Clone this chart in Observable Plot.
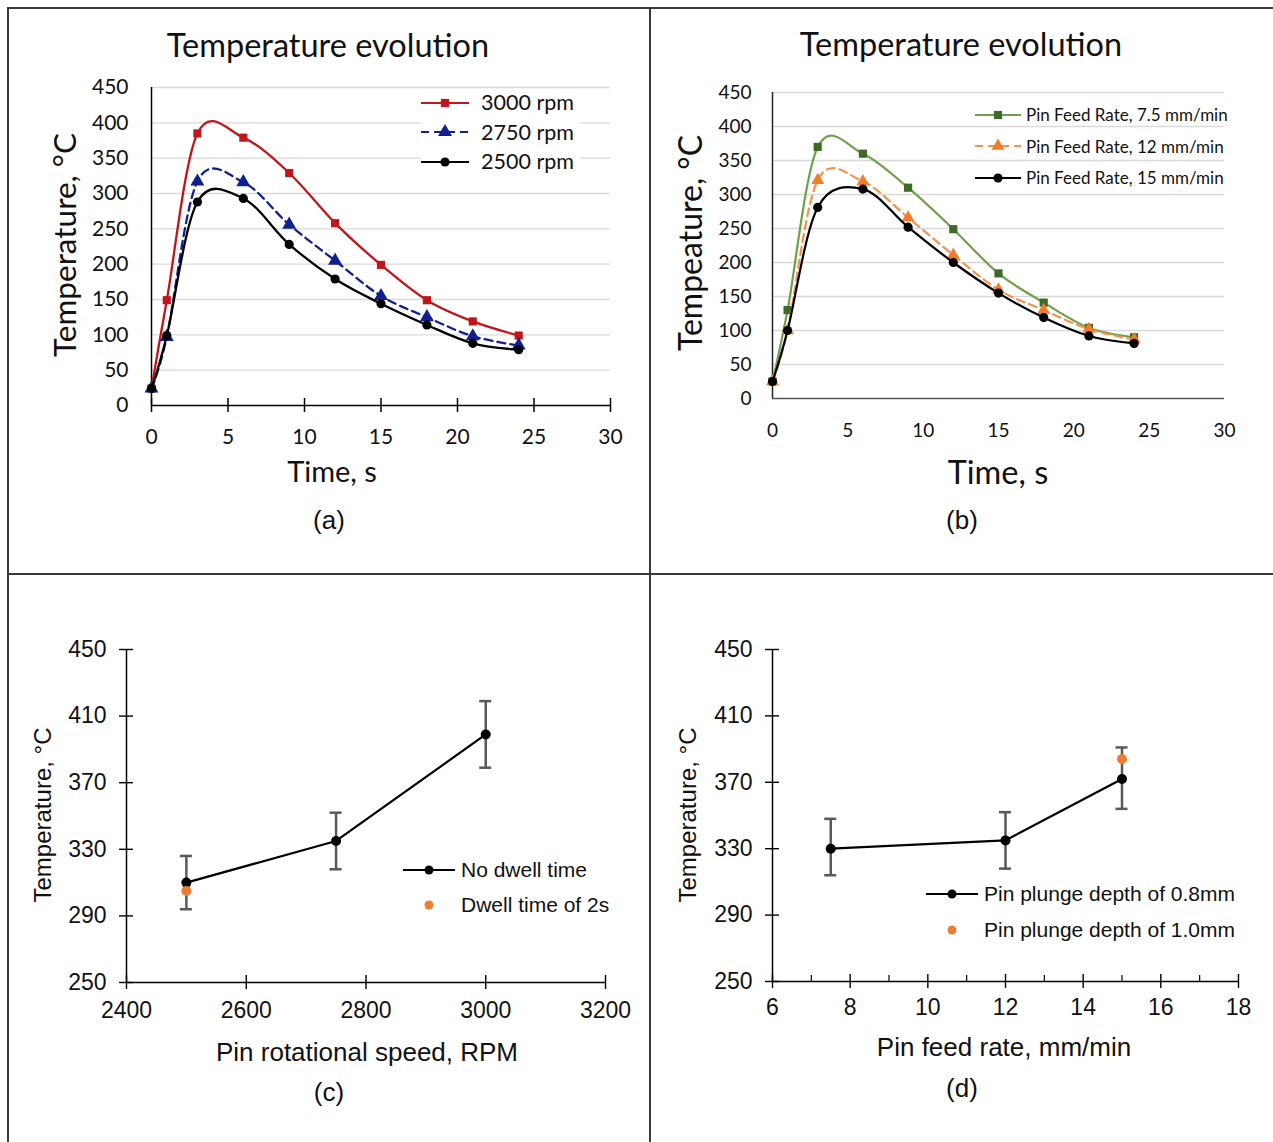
<!DOCTYPE html>
<html><head><meta charset="utf-8">
<script src="https://cdn.jsdelivr.net/npm/d3@7"></script>
<script src="https://cdn.jsdelivr.net/npm/@observablehq/plot@0.6"></script>
<style>
body{margin:0;background:#fff;}
#root{position:relative;width:1273px;height:1142px;overflow:hidden;background:#fff;}
.t{position:absolute;white-space:nowrap;line-height:1;color:#111;}
.leg{position:absolute;white-space:nowrap;line-height:1;color:#111;display:flex;align-items:center;}
.line{position:absolute;background:#3a3a3a;}
</style></head><body><div id="root"></div>
<script>
// ---------- data ----------
const timeS = [0, 1, 3, 6, 9, 12, 15, 18, 21, 24];
const rpm3000 = [24, 149, 385, 379, 329, 258, 199, 149, 119, 99];
const rpm2750 = [24, 97, 317, 316, 256, 205, 155, 125, 98, 85];
const rpm2500 = [24, 99, 288, 293, 228, 179, 144, 114, 88, 79];
const feed75 = [25, 130, 370, 360, 310, 249, 184, 141, 104, 90];
const feed12 = [25, 100, 321, 319, 266, 211, 160, 130, 102, 87];
const feed15 = [25, 100, 281, 308, 252, 200, 155, 119, 92, 81];

const speedRPM = [2500, 2750, 3000];
const speedTemp = [310, 335, 399];
const speedLo = [294, 318, 379];
const speedHi = [326, 352, 419];
const dwellRPM = [2500];
const dwellTemp = [305];

const feedRate = [7.5, 12, 15];
const feedTemp = [330, 335, 372];
const feedLo = [314, 318, 354];
const feedHi = [348, 352, 391];
const deepFeed = [15];
const deepTemp = [384];

const tempTicks = [0, 50, 100, 150, 200, 250, 300, 350, 400, 450];
const timeTicks = [0, 5, 10, 15, 20, 25, 30];
const tempTicks2 = [250, 290, 330, 370, 410, 450];
const speedTicks = [2400, 2600, 2800, 3000, 3200];
const feedTicks = [6, 8, 10, 12, 14, 16, 18];
const feedMinor = [7, 9, 11, 13, 15, 17];

const seriesA = [
  {name: "3000 rpm", values: rpm3000, color: "#C0161B", symbol: "square", r: 4.6, dash: null},
  {name: "2750 rpm", values: rpm2750, color: "#10208F", symbol: "triangle", r: 5.2, dash: "8,5"},
  {name: "2500 rpm", values: rpm2500, color: "#000000", symbol: "circle", r: 4.6, dash: null}
];
const seriesB = [
  {name: "Pin Feed Rate, 7.5 mm/min", values: feed75, color: "#6FA14A", mcolor: "#3B6B26", symbol: "square", r: 4.6, dash: null},
  {name: "Pin Feed Rate, 12 mm/min", values: feed12, color: "#F2924E", mcolor: "#EE7D2E", symbol: "triangle", r: 4.8, dash: "8,5"},
  {name: "Pin Feed Rate, 15 mm/min", values: feed15, color: "#000000", mcolor: "#000000", symbol: "circle", r: 4.6, dash: null}
];

// ---------- helpers ----------
const root = document.getElementById("root");
function put(node, left, top) {
  node.style.position = "absolute"; node.style.left = left + "px"; node.style.top = top + "px";
  root.appendChild(node); return node;
}
function text(str, cx, cy, font, size, rotate) {
  const d = document.createElement("div");
  d.className = "t"; d.textContent = str;
  d.style.fontFamily = font; d.style.fontSize = size + "px";
  d.style.left = cx + "px"; d.style.top = cy + "px";
  d.style.transform = "translate(-50%,-50%)" + (rotate ? " rotate(-90deg)" : "");
  root.appendChild(d); return d;
}
function rule(x, y, w, h) {
  const d = document.createElement("div"); d.className = "line";
  d.style.left = x + "px"; d.style.top = y + "px"; d.style.width = w + "px"; d.style.height = h + "px";
  root.appendChild(d);
}
const symMap = {square: d3.symbolSquare, triangle: d3.symbolTriangle, circle: d3.symbolCircle};
function legendRow(s, x, y, font, size, lineW, gap, fill) {
  const d = document.createElement("div"); d.className = "leg";
  d.style.left = x + "px"; d.style.top = (y - size * 0.6) + "px"; d.style.height = (size * 1.2) + "px";
  d.style.fontFamily = font; d.style.fontSize = size + "px";
  if (fill) { d.style.background = "#fff"; d.style.paddingRight = "6px"; }
  const ns = "http://www.w3.org/2000/svg";
  const svg = document.createElementNS(ns, "svg");
  svg.setAttribute("width", lineW); svg.setAttribute("height", 20);
  svg.style.marginRight = gap + "px"; svg.style.overflow = "visible";
  if (s.line !== false) {
    const l = document.createElementNS(ns, "line");
    l.setAttribute("x1", 0); l.setAttribute("x2", lineW); l.setAttribute("y1", 10); l.setAttribute("y2", 10);
    l.setAttribute("stroke", s.color); l.setAttribute("stroke-width", s.lw || 2.2);
    if (s.dash) l.setAttribute("stroke-dasharray", s.dash);
    svg.appendChild(l);
  }
  const p = document.createElementNS(ns, "path");
  p.setAttribute("d", d3.symbol(symMap[s.symbol], s.r * s.r * Math.PI)());
  p.setAttribute("transform", `translate(${lineW / 2},10)`);
  p.setAttribute("fill", s.mcolor || s.color);
  svg.appendChild(p);
  d.appendChild(svg);
  const sp = document.createElement("span"); sp.textContent = s.name; d.appendChild(sp);
  root.appendChild(d);
}

// ---------- frame ----------
rule(7, 7, 1266, 2);
rule(7, 7, 2, 1135);
rule(649, 7, 2, 1135);
rule(7, 573, 1266, 2);

// ---------- panel (a) ----------
const rowsA = seriesA.flatMap(s => timeS.map((t, i) => ({series: s.name, t, v: s.values[i]})));
const calib = "Lato, 'Open Sans', sans-serif";
const plotA = Plot.plot({
  width: 570, height: 390, marginLeft: 81, marginRight: 30, marginTop: 17, marginBottom: 55,
  x: {domain: [0, 30]}, y: {domain: [0, 450]},
  style: {fontFamily: calib, fontSize: "21px", color: "#111", background: "transparent", overflow: "visible"},
  marks: [
    Plot.gridY(tempTicks.slice(1), {stroke: "#d9d9d9", strokeOpacity: 1, strokeWidth: 1.3}),
    Plot.axisY(tempTicks, {tickSize: 0, tickPadding: 23, label: null, fontSize: 21}),
    Plot.axisX(timeTicks, {tickSize: 0, tickPadding: 24, label: null, fontSize: 21}),
    Plot.ruleX(timeTicks, {y1: 0, y2: 0, insetTop: -7, insetBottom: -7, stroke: "#000", strokeWidth: 1.5}),
    Plot.ruleY([0], {stroke: "#000", strokeWidth: 1.5}),
    Plot.ruleX([0], {stroke: "#000", strokeWidth: 1.5}),
    ...seriesA.flatMap(s => [
      Plot.line(rowsA.filter(d => d.series === s.name), {x: "t", y: "v", curve: "cardinal", stroke: s.color, strokeWidth: 2.3, strokeDasharray: s.dash}),
      Plot.dot(rowsA.filter(d => d.series === s.name), {x: "t", y: "v", symbol: s.symbol, r: s.r, fill: s.color})
    ])
  ]
});
put(plotA, 70, 70);
text("Temperature evolution", 328, 45, calib, 32.5);
text("Temperature, °C", 65, 245, calib, 31.5, true);
text("Time, s", 332, 470, calib, 29);
text("(a)", 329, 520, "'Liberation Sans', Arial, sans-serif", 26);
seriesA.forEach((s, i) => legendRow(s, 421, 103 + i * 29.5, calib, 21.5, 48, 12, true));

// ---------- panel (b) ----------
const rowsB = seriesB.flatMap(s => timeS.map((t, i) => ({series: s.name, t, v: s.values[i]})));
const plotB = Plot.plot({
  width: 560, height: 380, marginLeft: 82, marginRight: 26, marginTop: 22, marginBottom: 52,
  x: {domain: [0, 30]}, y: {domain: [0, 450]},
  style: {fontFamily: calib, fontSize: "19px", color: "#111", background: "transparent", overflow: "visible"},
  marks: [
    Plot.gridY(tempTicks.slice(1), {stroke: "#d9d9d9", strokeOpacity: 1, strokeWidth: 1.3}),
    Plot.axisY(tempTicks, {tickSize: 0, tickPadding: 21, label: null, fontSize: 19}),
    Plot.axisX(timeTicks, {tickSize: 0, tickPadding: 25, label: null, fontSize: 19}),
    Plot.ruleY([0], {stroke: "#555", strokeWidth: 1.5}),
    Plot.ruleX([0], {stroke: "#222", strokeWidth: 1.5}),
    ...seriesB.flatMap(s => [
      Plot.line(rowsB.filter(d => d.series === s.name), {x: "t", y: "v", curve: "cardinal", stroke: s.color, strokeWidth: 2.2, strokeDasharray: s.dash}),
      Plot.dot(rowsB.filter(d => d.series === s.name), {x: "t", y: "v", symbol: s.symbol, r: s.r, fill: s.mcolor})
    ])
  ]
});
put(plotB, 690, 70);
text("Temperature evolution", 961, 44, calib, 32.5);
text("Tempeature, °C", 690, 243, calib, 32, true);
text("Time, s", 998, 472, calib, 32.5);
text("(b)", 962, 520, "'Liberation Sans', Arial, sans-serif", 26);
seriesB.forEach((s, i) => legendRow(s, 975, 115 + i * 31.5, calib, 17, 46, 5, false));

// ---------- panel (c) ----------
const arial = "'Liberation Sans', Arial, sans-serif";
const rowsC = speedRPM.map((x, i) => ({x, y: speedTemp[i], lo: speedLo[i], hi: speedHi[i]}));
const rowsC2 = dwellRPM.map((x, i) => ({x, y: dwellTemp[i]}));
const plotC = Plot.plot({
  width: 630, height: 420, marginLeft: 106, marginRight: 45, marginTop: 29, marginBottom: 58,
  x: {domain: [2400, 3200]}, y: {domain: [250, 450]},
  style: {fontFamily: arial, fontSize: "23px", color: "#111", background: "transparent", overflow: "visible"},
  marks: [
    Plot.axisY(tempTicks2, {tickSize: 0, tickPadding: 20, label: null, fontSize: 23}),
    Plot.axisX(speedTicks, {tickSize: 0, tickPadding: 19, label: null, fontSize: 23, tickFormat: d => String(d)}),
    Plot.ruleX(speedTicks, {y1: 250, y2: 250, insetTop: -7, insetBottom: -7, stroke: "#000", strokeWidth: 1.4}),
    Plot.ruleY(tempTicks2, {x1: 2400, x2: 2400, insetLeft: -7, insetRight: -7, stroke: "#000", strokeWidth: 1.4}),
    Plot.ruleY([250], {stroke: "#000", strokeWidth: 1.5}),
    Plot.ruleX([2400], {stroke: "#000", strokeWidth: 1.5}),
    Plot.ruleX(rowsC, {x: "x", y1: "lo", y2: "hi", stroke: "#595959", strokeWidth: 2.5}),
    Plot.ruleY(rowsC, {y: "hi", x1: "x", x2: "x", insetLeft: -6, insetRight: -6, stroke: "#595959", strokeWidth: 2.5}),
    Plot.ruleY(rowsC, {y: "lo", x1: "x", x2: "x", insetLeft: -6, insetRight: -6, stroke: "#595959", strokeWidth: 2.5}),
    Plot.line(rowsC, {x: "x", y: "y", stroke: "#000", strokeWidth: 2.2}),
    Plot.dot(rowsC, {x: "x", y: "y", r: 5, fill: "#000"}),
    Plot.dot(rowsC2, {x: "x", y: "y", r: 5, fill: "#ED7D31"})
  ]
});
put(plotC, 20, 620);
text("Temperature,  °C", 43, 815, arial, 24, true);
text("Pin rotational speed, RPM", 367, 1052, arial, 26);
text("(c)", 329, 1092, arial, 26);
legendRow({name: "No dwell time", color: "#000", symbol: "circle", r: 4.5, lw: 2.2}, 403, 870, arial, 21, 52, 6, false);
legendRow({name: "Dwell time of 2s", color: "#ED7D31", symbol: "circle", r: 4.5, line: false}, 403, 905, arial, 21, 52, 6, false);

// ---------- panel (d) ----------
const rowsD = feedRate.map((x, i) => ({x, y: feedTemp[i], lo: feedLo[i], hi: feedHi[i]}));
const rowsD2 = deepFeed.map((x, i) => ({x, y: deepTemp[i]}));
const plotD = Plot.plot({
  width: 613, height: 420, marginLeft: 112, marginRight: 35, marginTop: 29, marginBottom: 59,
  x: {domain: [6, 18]}, y: {domain: [250, 450]},
  style: {fontFamily: arial, fontSize: "23px", color: "#111", background: "transparent", overflow: "visible"},
  marks: [
    Plot.axisY(tempTicks2, {tickSize: 0, tickPadding: 20, label: null, fontSize: 23}),
    Plot.axisX(feedTicks, {tickSize: 0, tickPadding: 17, label: null, fontSize: 23}),
    Plot.ruleX(feedTicks, {y1: 250, y2: 250, insetTop: -7, insetBottom: -7, stroke: "#000", strokeWidth: 1.4}),
    Plot.ruleX(feedMinor, {y1: 250, y2: 250, insetTop: -6, insetBottom: 0, stroke: "#000", strokeWidth: 1.2}),
    Plot.ruleY(tempTicks2, {x1: 6, x2: 6, insetLeft: -7, insetRight: -7, stroke: "#000", strokeWidth: 1.4}),
    Plot.ruleY([250], {stroke: "#000", strokeWidth: 1.5}),
    Plot.ruleX([6], {stroke: "#000", strokeWidth: 1.5}),
    Plot.ruleX(rowsD, {x: "x", y1: "lo", y2: "hi", stroke: "#595959", strokeWidth: 2.5}),
    Plot.ruleY(rowsD, {y: "hi", x1: "x", x2: "x", insetLeft: -6, insetRight: -6, stroke: "#595959", strokeWidth: 2.5}),
    Plot.ruleY(rowsD, {y: "lo", x1: "x", x2: "x", insetLeft: -6, insetRight: -6, stroke: "#595959", strokeWidth: 2.5}),
    Plot.line(rowsD, {x: "x", y: "y", stroke: "#000", strokeWidth: 2.2}),
    Plot.dot(rowsD, {x: "x", y: "y", r: 5, fill: "#000"}),
    Plot.dot(rowsD2, {x: "x", y: "y", r: 5, fill: "#ED7D31"})
  ]
});
put(plotD, 660, 620);
text("Temperature,  °C", 688, 815, arial, 24, true);
text("Pin feed rate, mm/min", 1004, 1047, arial, 26);
text("(d)", 962, 1088, arial, 26);
legendRow({name: "Pin plunge depth of 0.8mm", color: "#000", symbol: "circle", r: 4.5, lw: 2.2}, 926, 894, arial, 21, 52, 6, false);
legendRow({name: "Pin plunge depth of 1.0mm", color: "#ED7D31", symbol: "circle", r: 4.5, line: false}, 926, 930, arial, 21, 52, 6, false);
</script></body></html>
